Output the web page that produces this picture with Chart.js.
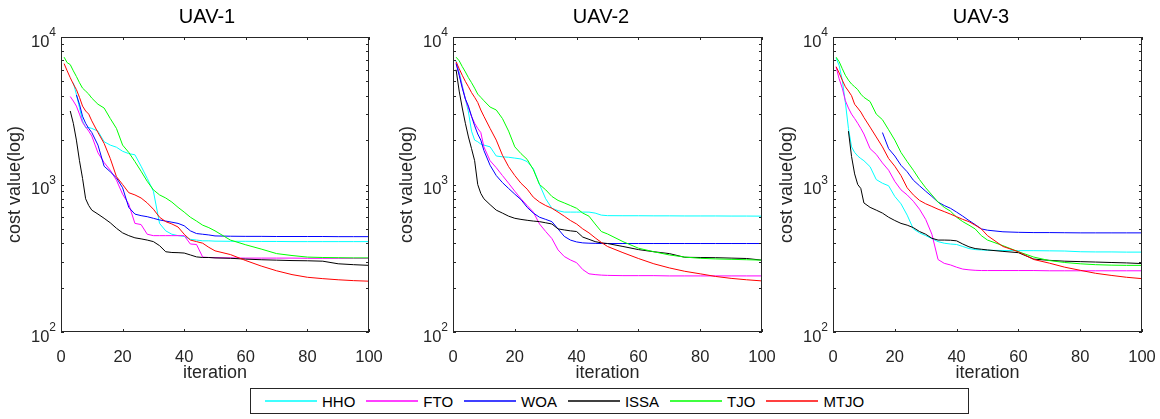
<!DOCTYPE html>
<html>
<head>
<meta charset="utf-8">
<script src="https://cdn.jsdelivr.net/npm/chart.js@4.4.1/dist/chart.umd.min.js"></script>
<style>
  html, body { margin: 0; padding: 0; background: #fff; width: 1160px; height: 419px; overflow: hidden; }
  canvas { position: absolute; top: 0; }
  #legend {
    position: absolute; left: 250px; top: 388px; width: 719px; height: 26px;
    border: 1px solid #262626; box-sizing: border-box; background: #fff;
    display: flex; align-items: center; padding-left: 14px;
    font-family: 'Liberation Sans', Arial, sans-serif; font-size: 15px; color: #000;
  }
  .item { display: flex; align-items: center; margin-right: 11px; }
  .item span.line { display: inline-block; width: 52px; height: 2px; opacity: 0.75; margin-right: 5px; }
</style>
</head>
<body>
<canvas id="UAV_1" width="414" height="385" style="left:0px"></canvas>
<canvas id="UAV_2" width="418" height="385" style="left:392px"></canvas>
<canvas id="UAV_3" width="418" height="385" style="left:772px"></canvas>
<div id="legend"></div>
<script>
// iterations sampled from the curves
var iters = [1,2,3,4,5,6,7,8,9,10,12,14,16,18,20,22,24,26,28,30,32,34,36,38,40,42,44,46,48,50,55,60,65,70,75,80,85,90,95,100];

var algNames = ['HHO', 'FTO', 'WOA', 'ISSA', 'TJO', 'MTJO'];
var algColors = ['#00ffff', '#ff00ff', '#0000ff', '#000000', '#00ff00', '#ff0000'];

var yMajorTicks = [100, 1000, 10000];
var yMajorBase = '10';
var yMajorExp = ['2', '3', '4'];
var yMinorTicks = [200,300,400,500,600,700,800,900,2000,3000,4000,5000,6000,7000,8000,9000];
var xTicks = [0, 20, 40, 60, 80, 100];

// UAV-1
var uav1_HHO  = [null,null,null,4900,4080,3320,2700,2430,2430,2400,2300,1950,1850,1790,1680,1620,1590,1330,1100,900,545,485,460,450,445,425,420,415,415,413,412,412,411,411,410,410,410,410,410,410];
var uav1_FTO  = [null,null,3950,3680,3400,3000,2630,2460,2300,2130,1640,1410,1250,1070,860,735,545,535,460,450,450,450,450,450,450,395,392,322,320,319,318,317,317,317,317,316,316,316,316,316];
var uav1_WOA  = [null,null,null,null,4050,3500,2900,2600,2400,2250,1850,1330,1220,1110,950,700,630,615,605,590,575,565,555,545,525,485,465,460,455,448,446,445,445,444,444,444,444,443,443,443];
var uav1_ISSA = [null,null,3150,2600,2000,1450,1100,800,720,670,630,590,550,505,470,450,435,428,420,410,385,350,346,345,343,333,323,320,320,318,316,312,309,307,305,304,302,290,286,283];
var uav1_TJO  = [7300,6700,6500,5900,5400,4900,4500,4300,4100,3850,3500,3300,2800,2400,1850,1650,1430,1230,1050,920,850,810,760,700,650,600,565,530,510,485,420,390,365,340,330,322,320,319,318,318];
var uav1_MTJO = [6600,5900,5300,4800,4400,3900,3400,3150,3000,2700,2250,1900,1500,1130,1000,880,850,810,750,680,600,560,540,515,460,420,410,400,375,355,335,305,280,260,245,235,230,226,223,221];

// UAV-2
var uav2_HHO  = [6900,5800,4700,3800,3100,2300,2000,1950,1880,1850,1800,1560,1540,1530,1510,1490,1430,1280,1000,800,690,665,650,650,650,650,650,640,620,615,614,614,613,613,612,612,612,611,611,610];
var uav2_FTO  = [6700,5600,4600,3800,3300,2900,2600,2400,2250,1800,1450,1300,1150,1020,900,800,720,650,540,480,430,360,325,308,295,265,248,245,243,242,241,241,241,240,240,240,240,240,240,240];
var uav2_WOA  = [6600,5500,4500,3800,3400,2900,2500,2200,2000,1700,1350,1150,1030,940,860,790,700,640,600,580,560,500,445,420,408,402,400,399,398,398,398,398,398,398,398,398,398,398,398,398];
var uav2_ISSA = [6000,4300,3300,2600,2100,1750,1450,1000,870,800,730,670,640,610,590,580,572,565,560,550,540,500,492,485,480,440,425,410,402,398,380,362,350,340,321,320,319,317,315,307];
var uav2_TJO  = [7300,6900,6300,5800,5300,4900,4500,4100,3900,3700,3350,3200,2800,2300,1800,1620,1480,1260,1000,920,830,780,750,720,690,640,610,540,480,462,410,370,350,333,322,316,313,311,309,307];
var uav2_MTJO = [6800,6100,5500,5000,4600,4200,3900,3600,3200,2900,2400,2000,1580,1320,1150,1020,930,820,760,720,690,650,610,570,540,500,470,435,405,380,345,315,290,272,258,248,238,231,226,222];

// UAV-3
var uav3_HHO  = [7200,6400,5100,3600,2400,1800,1650,1560,1500,1450,1320,1080,1020,980,830,740,620,500,470,450,430,410,400,395,392,380,368,362,360,358,357,356,356,355,354,350,349,349,348,348];
var uav3_FTO  = [6250,5200,4500,3700,3300,3000,2800,2600,2400,2200,1750,1600,1400,1250,1050,920,850,770,680,580,460,310,292,285,275,267,264,262,261,261,261,261,261,260,260,260,260,260,260,260];
var uav3_WOA  = [null,null,null,null,null,null,null,null,null,null,null,null,2250,1750,1560,1350,1220,1070,980,900,830,760,720,690,650,610,570,535,500,490,478,474,472,472,471,470,470,470,470,470];
var uav3_ISSA = [null,null,null,null,2300,1550,1180,1000,940,750,700,670,640,600,570,545,530,510,480,460,432,420,420,419,415,395,378,368,364,360,352,345,312,306,302,300,298,296,294,291];
var uav3_TJO  = [7300,6800,6100,5500,5100,4800,4600,4400,4100,3900,3650,3000,2750,2350,2000,1650,1430,1250,1080,950,850,760,700,660,600,560,530,500,450,420,385,350,322,305,296,290,286,284,283,283];
var uav3_MTJO = [6300,5700,5100,4600,4300,4000,3500,3300,3100,2850,2450,2100,1800,1500,1330,1150,950,850,780,740,710,680,655,630,605,580,560,530,500,450,380,350,310,293,275,262,250,242,235,230];

var fontFamily = "'Liberation Sans', Arial, sans-serif";
Chart.defaults.font.family = fontFamily;
Chart.defaults.color = '#262626';

// box round the plot with inward ticks, and 10^n labels with a raised exponent
const boxTicks = {
   id: 'boxTicks',
   afterDatasetsDraw(chart) {
      const ctx = chart.ctx;
      const a = chart.chartArea;
      const x = chart.scales.x;
      const y = chart.scales.y;
      const len = 3;
      ctx.save();
      ctx.strokeStyle = '#262626';
      ctx.lineWidth = 1;
      ctx.beginPath();
      x.ticks.forEach(function(t){
         const px = Math.round(x.getPixelForValue(t.value)) + 0.5;
         ctx.moveTo(px, a.bottom); ctx.lineTo(px, a.bottom - len);
         ctx.moveTo(px, a.top); ctx.lineTo(px, a.top + len);
      });
      y.ticks.forEach(function(t){
         const py = Math.round(y.getPixelForValue(t.value)) + 0.5;
         ctx.moveTo(a.left, py); ctx.lineTo(a.left + len, py);
         ctx.moveTo(a.right, py); ctx.lineTo(a.right - len, py);
      });
      ctx.stroke();
      ctx.strokeRect(Math.round(a.left) + 0.5, Math.round(a.top) + 0.5, Math.round(a.width) - 1, Math.round(a.height) - 1);

      ctx.fillStyle = '#262626';
      ctx.textAlign = 'right';
      ctx.textBaseline = 'middle';
      yMajorTicks.forEach(function(v, k){
         const py = y.getPixelForValue(v);
         const right = a.left - 5;
         ctx.font = '12px ' + fontFamily;
         const w = ctx.measureText(yMajorExp[k]).width;
         ctx.fillText(yMajorExp[k], right, py - 4);
         ctx.font = '16.5px ' + fontFamily;
         ctx.fillText(yMajorBase, right - w, py + 5);
      });
      ctx.restore();
   }
};

function getData(series){
   const datasets = series.map(function(vals, k){
      return {
         label: algNames[k],
         data: iters.map(function(it, i){ return {x: it, y: vals[i]}; }),
         borderColor: algColors[k],
         backgroundColor: algColors[k],
         borderWidth: 1,
         pointRadius: 0,
         fill: false,
         tension: 0,
         order: series.length - k
      };
   });
   return {datasets: datasets};
}

function getOptions(title, rightPad){
   return {
      responsive: false,
      animation: false,
      events: [],
      layout: {padding: 0},
      plugins: {
         legend: {display: false},
         tooltip: {enabled: false},
         title: {
            display: true,
            text: title,
            color: '#000',
            font: {size: 20, weight: 'normal'},
            padding: {top: 5, bottom: 8}
         }
      },
      scales: {
         x: {
            type: 'linear',
            min: 0,
            max: 100,
            grid: {display: false},
            border: {display: false},
            afterBuildTicks: function(scale){ scale.ticks = xTicks.map(function(v){ return {value: v}; }); },
            afterFit: function(scale){ scale.height = 53; },
            ticks: {font: {size: 16.5}, padding: 8, color: '#262626', maxRotation: 0, autoSkip: false},
            title: {display: true, text: 'iteration', font: {size: 18}, color: '#262626', padding: {top: 0, bottom: 1}}
         },
         y: {
            type: 'logarithmic',
            min: 100,
            max: 10000,
            grid: {display: false},
            border: {display: false},
            afterBuildTicks: function(scale){
               scale.ticks = yMajorTicks.concat(yMinorTicks).sort(function(a, b){ return a - b; })
                  .map(function(v){ return {value: v}; });
            },
            afterFit: function(scale){ scale.width = 61; },
            ticks: {autoSkip: false, callback: function(){ return ''; }},
            title: {display: true, text: 'cost value(log)', font: {size: 18}, color: '#262626', padding: {top: 4, bottom: 0}}
         },
         // empty right axis: keeps the space right of the plot so the title stays centred on the figure
         yRight: {
            type: 'linear',
            position: 'right',
            display: true,
            grid: {display: false},
            border: {display: false},
            ticks: {display: false},
            afterFit: function(scale){ scale.width = rightPad; }
         }
      }
   };
}

function getConfig(series, title, rightPad){
   return {
      type: 'line',
      data: getData(series),
      options: getOptions(title, rightPad),
      plugins: [boxTicks]
   };
}

var chart1 = new Chart(document.getElementById('UAV_1'),
   getConfig([uav1_HHO, uav1_FTO, uav1_WOA, uav1_ISSA, uav1_TJO, uav1_MTJO], 'UAV-1', 45));
var chart2 = new Chart(document.getElementById('UAV_2'),
   getConfig([uav2_HHO, uav2_FTO, uav2_WOA, uav2_ISSA, uav2_TJO, uav2_MTJO], 'UAV-2', 48));
var chart3 = new Chart(document.getElementById('UAV_3'),
   getConfig([uav3_HHO, uav3_FTO, uav3_WOA, uav3_ISSA, uav3_TJO, uav3_MTJO], 'UAV-3', 48));

// shared legend under the three panels
var legend = document.getElementById('legend');
algNames.forEach(function(name, k){
   var item = document.createElement('div');
   item.className = 'item';
   var line = document.createElement('span');
   line.className = 'line';
   line.style.backgroundColor = algColors[k];
   var txt = document.createElement('span');
   txt.textContent = name;
   item.appendChild(line);
   item.appendChild(txt);
   legend.appendChild(item);
});
</script>
</body>
</html>
